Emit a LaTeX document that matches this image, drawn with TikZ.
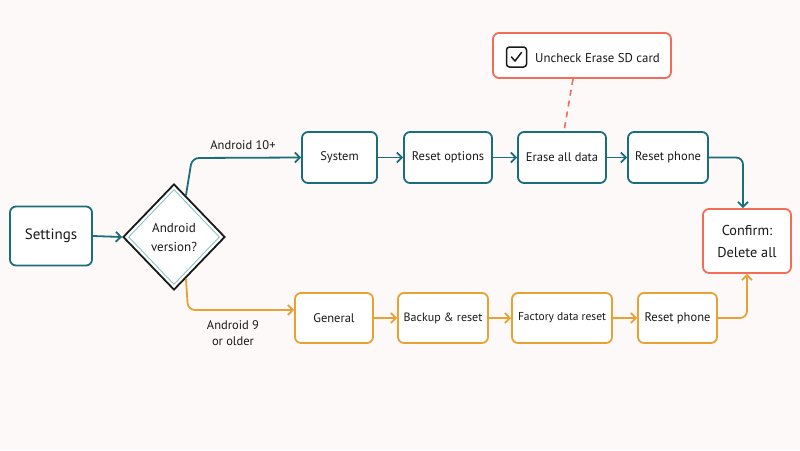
\documentclass[tikz,border=0pt]{standalone}
\usepackage{fontspec}
\setmainfont{PT Sans}
\usetikzlibrary{shapes.geometric,arrows.meta,calc}
\definecolor{teal1}{RGB}{26,110,124}
\definecolor{orng}{RGB}{233,161,52}
\definecolor{coral}{RGB}{244,108,88}
\definecolor{lteal}{RGB}{140,196,200}
\definecolor{bg}{RGB}{253,249,249}
\definecolor{ink}{RGB}{25,25,25}
\begin{document}
\begin{tikzpicture}[x=1pt,y=-1pt,
  box/.style={draw,line width=1.8pt,rounded corners=6pt,fill=white,text=ink,font=\fontsize{12.5}{15}\selectfont,inner sep=0pt,align=center},
  tbox/.style={box,draw=teal1},
  obox/.style={box,draw=orng},
  cbox/.style={box,draw=coral},
  tarr/.style={draw=teal1,line width=1.8pt,-{Straight Barb[length=5pt,width=10pt]},rounded corners=7pt},
  oarr/.style={draw=orng,line width=1.8pt,-{Straight Barb[length=5pt,width=10pt]},rounded corners=7pt},
  lbl/.style={text=ink,font=\fontsize{12.5}{16}\selectfont,align=center,inner sep=0pt}
]
\fill[bg] (0,0) rectangle (800,450);
\useasboundingbox (0,0) rectangle (800,450);

\node[tbox,minimum width=82pt,minimum height=59pt,font=\fontsize{15}{18}\selectfont] (set) at (51,236) {Settings};
\node[diamond,draw=ink,line width=1.8pt,fill=white,minimum width=102pt,minimum height=106pt,inner sep=0pt] (dia) at (174,237) {};
\node[diamond,draw=lteal,line width=0.9pt,minimum width=91pt,minimum height=95pt,inner sep=0pt,text=ink,font=\fontsize{13}{19}\selectfont,align=center] (diain) at (174,237) {Android\\version?};

\node[tbox,minimum width=75pt,minimum height=51pt] (sys) at (339.5,157.5) {System};
\node[tbox,minimum width=88pt,minimum height=51pt] (ro) at (448,157.5) {Reset options};
\node[tbox,minimum width=88pt,minimum height=51pt] (er) at (562,157.5) {Erase all data};
\node[tbox,minimum width=80pt,minimum height=51pt] (rp1) at (668,157.5) {Reset phone};

\node[cbox,minimum width=178pt,minimum height=45pt] (unc) at (582,55.5) {};
\node[draw=ink,line width=1.5pt,rounded corners=3pt,minimum width=20pt,minimum height=20pt,inner sep=0pt] (chk) at (516.5,57) {};
\draw[ink,line width=1.5pt,line cap=round,line join=round] ([shift={(-5pt,0pt)}]chk.center) -- ([shift={(-1.5pt,-4pt)}]chk.center) -- ([shift={(5pt,4.5pt)}]chk.center);
\node[lbl,anchor=west,font=\fontsize{12.8}{15}\selectfont] (unct) at (535,58) {Uncheck Erase SD card};

\node[cbox,minimum width=88pt,minimum height=64pt,font=\fontsize{14.3}{22}\selectfont] (conf) at (747,241) {Confirm:\\Delete all};

\node[obox,minimum width=78pt,minimum height=50pt] (gen) at (334,318) {General};
\node[obox,minimum width=90pt,minimum height=50pt,font=\fontsize{12}{15}\selectfont] (bak) at (443,318) {Backup \& reset};
\node[obox,minimum width=100pt,minimum height=50pt,font=\fontsize{11.5}{15}\selectfont] (fac) at (562,318) {Factory data reset};
\node[obox,minimum width=79pt,minimum height=50pt] (rp2) at (677.5,318) {Reset phone};

\node[lbl] (l10) at (243,145) {Android 10+};
\node[lbl] (l9) at (233,333) {Android 9\\or older};

\draw[tarr] (set.east) -- (dia.west);
\draw[tarr] ($(dia.north)!0.23!(dia.east)$) -- (192,158) -- (sys.west);
\draw[tarr] (sys.east) -- (ro.west);
\draw[tarr] (ro.east) -- (er.west);
\draw[tarr] (er.east) -- (rp1.west);
\draw[tarr] (rp1.east) -| ([xshift=-4pt]conf.north);

\draw[oarr] ($(dia.south)!0.23!(dia.east)$) -- (188,310) -- ($(gen.west)+(0,-8)$);
\draw[oarr] (gen.east) -- (bak.west);
\draw[oarr] (bak.east) -- (fac.west);
\draw[oarr] (fac.east) -- (rp2.west);
\draw[oarr] (rp2.east) -| (conf.south);

\draw[coral,line width=1.6pt,dash pattern=on 6pt off 5pt] ([xshift=-9pt]unc.south) -- ([xshift=2pt]er.north);
\end{tikzpicture}
\end{document}
